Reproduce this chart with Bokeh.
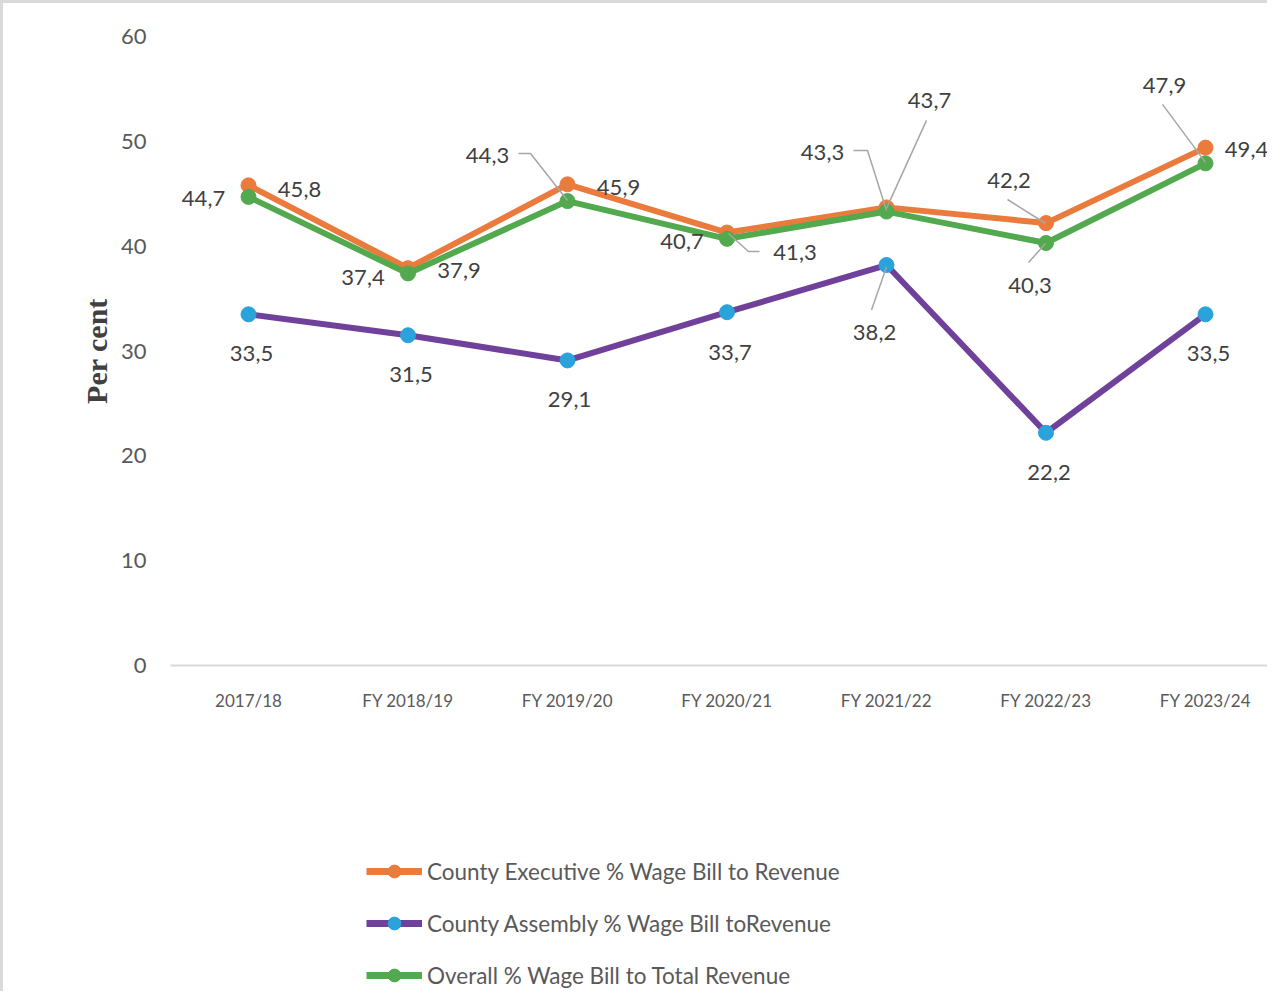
from bokeh.plotting import figure
from bokeh.layouts import column
from bokeh.models import Range1d, FixedTicker, Legend, LegendItem, ColumnDataSource
from bokeh.embed import file_html
from bokeh.resources import INLINE
from bokeh.core.properties import value

# ---------------- data ----------------
years = ["2017/18", "FY 2018/19", "FY 2019/20", "FY 2020/21",
         "FY 2021/22", "FY 2022/23", "FY 2023/24"]
executive = [45.8, 37.9, 45.9, 41.3, 43.7, 42.2, 49.4]
assembly = [33.5, 31.5, 29.1, 33.7, 38.2, 22.2, 33.5]
overall = [44.7, 37.4, 44.3, 40.7, 43.3, 40.3, 47.9]
y_ticks = [0, 10, 20, 30, 40, 50, 60]
names = ["County Executive % Wage Bill to Revenue",
         "County Assembly % Wage Bill toRevenue",
         "Overall % Wage Bill to Total Revenue"]

# ---------------- styles ----------------
ORANGE, PURPLE, BLUE, GREEN = "#EB7A3D", "#70419B", "#2AA2DA", "#52A94E"
LABEL_COLOR, TICK_COLOR, LEADER_COLOR = "#404040", "#595959", "#A6A6A6"
FONT = "Lato"

# data-label offsets in pixels (screen, y down)
exec_off = [(51, 4), (51, 2), (51, 3), (68, 20), (43, -107), (-37, -43), (41, 2)]
asm_off = [(3, 39), (3, 39), (2, 39), (3, 40), (-12, 67), (3, 40), (3, 39)]
ovr_off = [(-45, 2), (-45, 4), (-80, -46), (-45, 3), (-64, -59), (-16, 42), (-41, -78)]

# leader lines: (series, index, pixel path relative to point)
leaders = [
    ("exec", 3, [(1.5, 1), (21.5, 19), (32.5, 19)]),
    ("exec", 4, [(40, -87), (0, 1)]),
    ("exec", 5, [(-38.5, -23.6), (-0.5, 0.4)]),
    ("ovr", 2, [(-49, -47.6), (-37, -47.6), (0, -0.6)]),
    ("ovr", 4, [(-33, -61), (-19, -61), (0, -1)]),
    ("ovr", 5, [(-17.5, 19.5), (-0.5, 0.5)]),
    ("ovr", 6, [(-43, -59), (0, -1)]),
    ("asm", 4, [(-15, 45), (0, 2)]),
]

# ---------------- geometry ----------------
W = 1264
LEFT, TOP, FRAME_H, AX_H = 167, 33, 629, 70
HA = TOP + FRAME_H + AX_H
HB = 988 - HA
PX_X = 159.5
X0 = -78 / PX_X
X1 = X0 + (W - LEFT) / PX_X
PX_Y = FRAME_H / (y_ticks[-1] - y_ticks[0])

xs = list(range(len(years)))

p = figure(width=W, height=HA, output_backend="svg", toolbar_location=None,
           x_range=Range1d(X0, X1), y_range=Range1d(y_ticks[0], y_ticks[-1]),
           min_border_left=LEFT, min_border_top=TOP, min_border_bottom=AX_H,
           min_border_right=0)
p.outline_line_color = None
p.grid.visible = False
p.background_fill_color = "#FFFFFF"
p.border_fill_color = "#FFFFFF"

# axes
p.xaxis.ticker = FixedTicker(ticks=xs)
p.xaxis.major_label_overrides = {i: y for i, y in enumerate(years)}
p.xaxis.axis_line_color = "#D9D9D9"
p.xaxis.axis_line_width = 2
p.xaxis.major_tick_line_color = None
p.xaxis.minor_tick_line_color = None
p.xaxis.major_label_standoff = 18
p.xaxis.major_label_text_font = FONT
p.xaxis.major_label_text_font_size = "17px"
p.xaxis.major_label_text_color = TICK_COLOR

p.yaxis.ticker = FixedTicker(ticks=y_ticks)
p.yaxis.axis_line_color = None
p.yaxis.major_tick_line_color = None
p.yaxis.minor_tick_line_color = None
p.yaxis.major_label_standoff = 18
p.yaxis.major_label_text_font = FONT
p.yaxis.major_label_text_font_size = "22px"
p.yaxis.major_label_text_color = TICK_COLOR
p.yaxis.axis_label = "Per cent"
p.yaxis.axis_label_text_font = "Liberation Serif"
p.yaxis.axis_label_text_font_style = "bold"
p.yaxis.axis_label_text_font_size = "30px"
p.yaxis.axis_label_text_color = LABEL_COLOR
p.yaxis.axis_label_standoff = 5

# series (order: executive, assembly, overall -> overall on top)
series = [
    ("exec", executive, ORANGE, ORANGE, 6, exec_off),
    ("asm", assembly, PURPLE, BLUE, 6, asm_off),
    ("ovr", overall, GREEN, GREEN, 6, ovr_off),
]
vals_by_key = {}
for key, vals, lc, mc, lw, off in series:
    vals_by_key[key] = vals
    src = ColumnDataSource(dict(x=xs, y=vals))
    p.line("x", "y", source=src, line_color=lc, line_width=lw)
    p.scatter("x", "y", source=src, size=15, fill_color=mc, line_color=mc)

# leader lines
lx, ly = [], []
for key, idx, path in leaders:
    v = vals_by_key[key][idx]
    lx.append([xs[idx] + dx / PX_X for dx, dy in path])
    ly.append([v - dy / PX_Y for dx, dy in path])
p.multi_line(lx, ly, line_color=LEADER_COLOR, line_width=1.5)

# data labels
for key, vals, lc, mc, lw, off in series:
    src = ColumnDataSource(dict(
        x=xs, y=vals,
        t=[f"{v:.1f}".replace(".", ",") for v in vals],
        dx=[o[0] for o in off], dy=[o[1] for o in off]))
    p.text("x", "y", text="t", x_offset="dx", y_offset="dy", source=src,
           text_font=value(FONT), text_font_size="22px", text_color=LABEL_COLOR,
           text_align="center", text_baseline="middle")

# ---------------- legend area (series kept out of view, only the legend shows) ----------------
q = figure(width=W, height=HB, output_backend="svg", toolbar_location=None,
           x_range=Range1d(0, 1), y_range=Range1d(-2, -1),
           x_axis_location=None, y_axis_location=None,
           min_border_left=LEFT, min_border_right=0, min_border_top=0, min_border_bottom=0)
q.outline_line_color = None
q.grid.visible = False
q.background_fill_color = "#FFFFFF"
q.border_fill_color = "#FFFFFF"
items = []
for (key, vals, lc, mc, lw, off), name in zip(series, names):
    src = ColumnDataSource(dict(x=xs, y=vals))
    r_line = q.line("x", "y", source=src, line_color=lc, line_width=lw + 1)
    r_dot = q.scatter("x", "y", source=src, size=15, fill_color=mc, line_color=mc)
    items.append(LegendItem(label=name, renderers=[r_line, r_dot]))

legend = Legend(items=items, location=(196, 0), orientation="vertical",
                glyph_width=56, glyph_height=32, label_height=32, spacing=20,
                label_standoff=5, padding=0, margin=0,
                border_line_color=None, background_fill_alpha=0,
                label_text_font=FONT, label_text_font_size="22.5px",
                label_text_color=TICK_COLOR)
q.add_layout(legend, "center")

layout = column(p, q, spacing=0,
                styles={"border-top": "3px solid #DADADA", "border-left": "3px solid #DADADA"})

open("out.html", "w").write(file_html(layout, INLINE))
